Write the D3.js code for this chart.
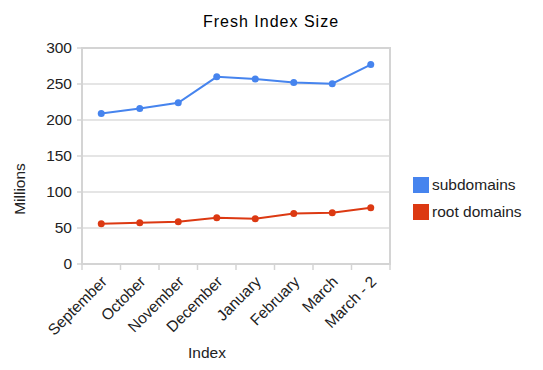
<!DOCTYPE html>
<html><head><meta charset="utf-8">
<script src="https://cdn.jsdelivr.net/npm/d3@7"></script>
<style>body{margin:0;background:#fff}</style>
</head><body>
<svg id="c" width="543" height="370"></svg>
<script>
const categories = ["September","October","November","December","January","February","March","March - 2"];
const subdomains = [209, 216, 224, 260, 257, 252, 250.5, 277];
const rootDomains = [56, 57.4, 58.8, 64.4, 63, 70, 71.3, 78];
const yTicks = [0, 50, 100, 150, 200, 250, 300];
const seriesNames = ["subdomains", "root domains"];
const colors = ["#4684ee", "#dc3912"];

const svg = d3.select("#c");
const L = 82, R = 390, T = 48, B = 264;
const x = d3.scaleBand().domain(categories).range([L, R]);
const y = d3.scaleLinear().domain([0, 300]).range([B, T]);
const font = "'Liberation Sans', Arial, sans-serif";
const fs = 15.5;

// gridlines
svg.append("g").selectAll("line").data(yTicks).join("line")
  .attr("x1", L).attr("x2", R).attr("y1", d => y(d)).attr("y2", d => y(d))
  .attr("stroke", "#dddddd").attr("stroke-width", 1.5);
// frame
svg.append("rect").attr("x", L).attr("y", T).attr("width", R - L).attr("height", B - T)
  .attr("fill", "none").attr("stroke", "#d4d4d4").attr("stroke-width", 2);
// left ticks
svg.append("g").selectAll("line").data(yTicks).join("line")
  .attr("x1", L - 5).attr("x2", L).attr("y1", d => y(d)).attr("y2", d => y(d))
  .attr("stroke", "#d4d4d4").attr("stroke-width", 1.5);
// bottom ticks at band edges
const edges = categories.map(c => x(c)).concat([R]);
svg.append("g").selectAll("line").data(edges).join("line")
  .attr("x1", d => d).attr("x2", d => d).attr("y1", B).attr("y2", B + 6)
  .attr("stroke", "#d4d4d4").attr("stroke-width", 1.5);

// y labels
svg.append("g").selectAll("text").data(yTicks).join("text")
  .attr("x", L - 10).attr("y", d => y(d)).attr("dy", "0.35em")
  .attr("text-anchor", "end").attr("font-family", font).attr("font-size", fs)
  .attr("fill", "#222").text(d => d);
// x labels
svg.append("g").selectAll("text").data(categories).join("text")
  .attr("transform", d => `translate(${x(d) + x.bandwidth() / 2 - 1},${B + 11}) rotate(-45)`)
  .attr("text-anchor", "end").attr("dy", "0.7em").attr("font-family", font).attr("font-size", fs)
  .attr("fill", "#222").text(d => d);

// lines
[subdomains, rootDomains].forEach((vals, i) => {
  const line = d3.line().x((d, j) => x(categories[j]) + x.bandwidth() / 2).y(d => y(d));
  svg.append("path").datum(vals).attr("d", line).attr("fill", "none")
    .attr("stroke", colors[i]).attr("stroke-width", 2);
  svg.append("g").selectAll("circle").data(vals).join("circle")
    .attr("cx", (d, j) => x(categories[j]) + x.bandwidth() / 2).attr("cy", d => y(d))
    .attr("r", 3.5).attr("fill", colors[i]);
});

// title
svg.append("text").attr("x", 271).attr("y", 27).attr("text-anchor", "middle")
  .attr("font-family", font).attr("font-size", 16).attr("letter-spacing", 1)
  .attr("fill", "#000").text("Fresh Index Size");
// axis titles
svg.append("text").attr("transform", "translate(25,189) rotate(-90)").attr("text-anchor", "middle")
  .attr("font-family", font).attr("font-size", fs).attr("fill", "#222").text("Millions");
svg.append("text").attr("x", 207).attr("y", 358).attr("text-anchor", "middle")
  .attr("font-family", font).attr("font-size", fs).attr("fill", "#222").text("Index");

// legend
const lg = svg.append("g").selectAll("g").data(seriesNames).join("g")
  .attr("transform", (d, i) => `translate(413,${177 + i * 27})`);
lg.append("rect").attr("width", 16).attr("height", 16).attr("fill", (d, i) => colors[i]);
lg.append("text").attr("x", 19).attr("y", 8).attr("dy", "0.35em").attr("font-family", font)
  .attr("font-size", fs).attr("fill", "#222").text(d => d);
</script>
</body></html>
